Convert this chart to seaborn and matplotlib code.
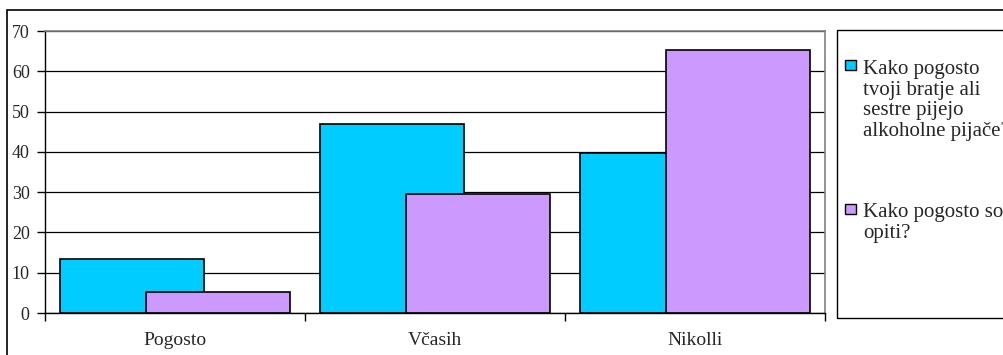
import numpy as np
import pandas as pd
import matplotlib
matplotlib.use('Agg')
import matplotlib.pyplot as plt
import seaborn as sns
from matplotlib.patches import Rectangle

# data
categories = ['Pogosto', 'Včasih', 'Nikolli']
bratje = [13.4, 47.0, 39.6]
opiti = [5.1, 29.6, 65.2]
labels = ['Kako pogosto\ntvoji bratje ali\nsestre pijejo\nalkoholne pijače?',
          'Kako pogosto so\nopiti?']
colors = ['#00CCFF', '#CC99FF']

sns.set_theme(style='white')
plt.rcParams['font.family'] = ['Liberation Serif', 'DejaVu Serif']

W, H = 1004, 355
fig = plt.figure(figsize=(W / 100, H / 100), dpi=100)
ax = fig.add_axes([45 / W, 1 - 313 / H, (825 - 45) / W, (313 - 31) / H])

bar_w = 0.554
shift = 0.165
for vals, col, off in [(bratje, colors[0], -shift), (opiti, colors[1], shift)]:
    df = pd.DataFrame({'cat': categories, 'val': vals})
    n0 = len(ax.patches)
    sns.barplot(data=df, x='cat', y='val', color=col, width=bar_w,
                edgecolor='black', linewidth=1.2, saturation=1, ax=ax,
                order=categories)
    for p in ax.patches[n0:]:
        p.set_x(p.get_x() + off)

ax.set_xlim(-0.5, len(categories) - 0.5)
ax.set_ylim(0, 70)
ax.set_yticks(np.arange(0, 71, 10))
ax.set_xlabel('')
ax.set_ylabel('')
ax.yaxis.grid(True, color='black', linewidth=0.9)
ax.set_axisbelow(True)

for s in ['top', 'right']:
    ax.spines[s].set_color('#808080')
    ax.spines[s].set_linewidth(1.2)
for s in ['left', 'bottom']:
    ax.spines[s].set_color('black')
    ax.spines[s].set_linewidth(1.0)

ax.set_xticks(np.arange(len(categories)))
ax.set_xticklabels(categories)
ax.set_xticks(np.arange(-0.5, len(categories)), minor=True)
ax.tick_params(axis='x', which='major', length=0, pad=14, labelsize=14)
ax.tick_params(axis='x', which='minor', length=6, width=1, color='black',
               direction='out', bottom=True)
ax.tick_params(axis='y', which='major', length=6, width=1, color='black',
               direction='out', left=True, pad=5, labelsize=13)

# outer chart border
fig.patches.append(Rectangle((7 / W, -0.1), 1.2, 1 - 10 / H + 0.1,
                             transform=fig.transFigure, fill=False,
                             edgecolor='black', linewidth=1.2))
# legend box
fig.patches.append(Rectangle((837 / W, 1 - 318 / H), 0.3, (318 - 30) / H,
                             transform=fig.transFigure, fill=False,
                             edgecolor='black', linewidth=1.0))

# legend entries: square next to the first line, wrapped text below
for lab, col, first in zip(labels, colors, [73, 217]):
    n_lines = lab.count('\n')
    fig.patches.append(Rectangle((845 / W, 1 - (first - 3) / H), 11 / W, 10 / H,
                                 transform=fig.transFigure, facecolor=col,
                                 edgecolor='black', linewidth=1.0))
    # baseline alignment uses the last line
    fig.text(863 / W, 1 - (first + 21 * n_lines) / H, lab, fontsize=15,
             va='baseline', ha='left', linespacing=1.12)

fig.savefig('out.png', dpi=100)
